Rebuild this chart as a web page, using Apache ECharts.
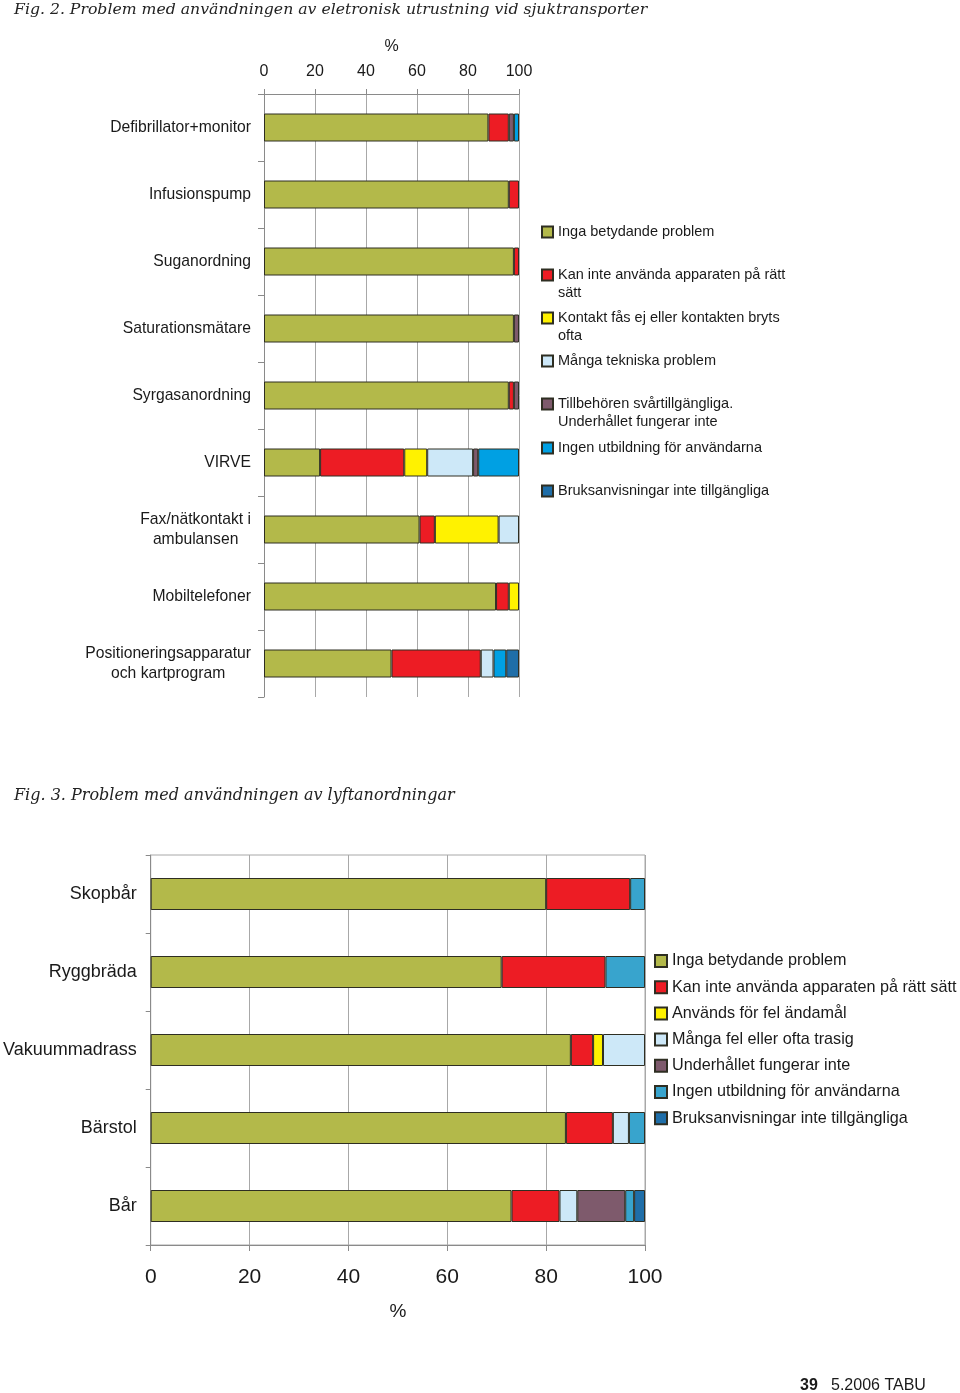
<!DOCTYPE html>
<html>
<head>
<meta charset="utf-8">
<script src="https://cdn.jsdelivr.net/npm/echarts@6/dist/echarts.min.js"></script>
<style>
html,body{margin:0;padding:0;background:#fff;}
#c1{position:absolute;left:0;top:0;width:960px;height:780px;}
#c2{position:absolute;left:0;top:780px;width:960px;height:613px;}
</style>
</head>
<body>
<div id="c1"></div>
<div id="c2"></div>
<script>
// ---------- Fig. 2 data ----------
const cats1 = ['Defibrillator+monitor','Infusionspump','Suganordning','Saturationsmätare','Syrgasanordning','VIRVE','Fax/nätkontakt i\nambulansen','Mobiltelefoner','Positioneringsapparatur\noch kartprogram'];
const names1 = ['Inga betydande problem','Kan inte använda apparaten på rätt sätt','Kontakt fås ej eller kontakten bryts ofta','Många tekniska problem','Tillbehören svårtillgängliga. Underhållet fungerar inte','Ingen utbildning för användarna','Bruksanvisningar inte tillgängliga'];
const legendText1 = ['Inga betydande problem','Kan inte använda apparaten på rätt\nsätt','Kontakt fås ej eller kontakten bryts\nofta','Många tekniska problem','Tillbehören svårtillgängliga.\nUnderhållet fungerar inte','Ingen utbildning för användarna','Bruksanvisningar inte tillgängliga'];
const inga1    = [88, 96, 98, 98, 96, 22, 61, 91, 50];
const kan1     = [ 8,  4,  2,  0,  2, 33,  6,  5, 35];
const kontakt1 = [ 0,  0,  0,  0,  0,  9, 25,  4,  0];
const tekn1    = [ 0,  0,  0,  0,  0, 18,  8,  0,  5];
const till1    = [ 2,  0,  0,  2,  2,  2,  0,  0,  0];
const utb1     = [ 2,  0,  0,  0,  0, 16,  0,  0,  5];
const bruk1    = [ 0,  0,  0,  0,  0,  0,  0,  0,  5];
const ticks1 = [0, 20, 40, 60, 80, 100];

// ---------- Fig. 3 data ----------
const cats2 = ['Skopbår','Ryggbräda','Vakuummadrass','Bärstol','Bår'];
const names2 = ['Inga betydande problem','Kan inte använda apparaten på rätt sätt','Används för fel ändamål','Många fel eller ofta trasig','Underhållet fungerar inte','Ingen utbildning för användarna','Bruksanvisningar inte tillgängliga'];
const inga2 = [80, 71, 85,   84,   73];
const kan2  = [17, 21, 4.5,  9.5,  9.7];
const anv2  = [ 0,  0, 2,    0,    0];
const fel2  = [ 0,  0, 8.5,  3.25, 3.6];
const und2  = [ 0,  0, 0,    0,    9.7];
const utb2  = [ 3,  8, 0,    3.25, 1.8];
const bruk2 = [ 0,  0, 0,    0,    2.2];

const colors1 = ['#b3b94a','#ed1c24','#fff200','#cde8f8','#7e5a6c','#00a0e3','#1f6ea8'];
const colors2 = ['#b3b94a','#ed1c24','#fff200','#cde8f8','#7e5a6c','#38a4cd','#1f6ea8'];

const FONT = '"Liberation Sans", Arial, sans-serif';
const SERIF = '"DejaVu Serif", serif';
const TXT = '#1a1a1a';
const GRIDC = '#a8a8a8';
const AXC = '#8a8a8a';

function nz(arr){ return arr.map(v => v === 0 ? '-' : v); }

function makeSeries(names, dataList, colors, barWidth){
  return names.map((n, i) => ({
    name: n, type: 'bar', stack: 'all', barWidth: barWidth,
    data: nz(dataList[i]),
    itemStyle: { color: colors[i], borderColor: '#2e2e22', borderWidth: 1 },
    emphasis: { disabled: true },
    animation: false
  }));
}

// rich styles for centered multi-line category labels
const rich1 = {};
cats1.forEach((c, i) => {
  if (c.indexOf('\n') >= 0) rich1['c' + i] = { align: 'center', fontSize: 15.7, lineHeight: 20, fontFamily: FONT, color: TXT };
});

// ---------- Chart 1 ----------
const ch1 = echarts.init(document.getElementById('c1'));
const legendCenters1 = [232, 275, 318, 361, 404, 448, 491];
const legends1 = names1.map((n, i) => {
  const two = legendText1[i].indexOf('\n') >= 0;
  return {
    data: [n], left: 541, top: two ? legendCenters1[i] - 27 : legendCenters1[i] - 9,
    padding: 0, itemWidth: 11, itemHeight: 11, icon: 'rect',
    selectedMode: false,
    formatter: () => (two ? '\n' : '') + legendText1[i],
    textStyle: { fontFamily: FONT, fontSize: 14.5, color: TXT, lineHeight: 18 }
  };
});
ch1.setOption({
  animation: false,
  title: {
    text: 'Fig. 2. Problem med användningen av eletronisk utrustning vid sjuktransporter',
    left: 14, top: 2, padding: 0,
    textStyle: { fontFamily: SERIF, fontStyle: 'italic', fontWeight: 'normal', fontSize: 15.7, color: '#222' }
  },
  legend: legends1,
  grid: { left: 264, top: 94, width: 255, height: 603, containLabel: false },
  xAxis: {
    type: 'value', position: 'top', min: ticks1[0], max: ticks1[ticks1.length - 1], interval: 20,
    name: '%', nameLocation: 'middle', nameGap: 39,
    nameTextStyle: { fontFamily: FONT, fontSize: 16, color: TXT },
    axisLine: { show: true, lineStyle: { color: AXC } },
    axisTick: { show: true, length: 5, lineStyle: { color: AXC } },
    axisLabel: { fontFamily: FONT, fontSize: 16, color: TXT, margin: 14 },
    splitLine: { show: true, lineStyle: { color: GRIDC, width: 1 } }
  },
  yAxis: {
    type: 'category', inverse: true, data: cats1,
    axisLine: { show: true, lineStyle: { color: AXC } },
    axisTick: { show: true, length: 6, lineStyle: { color: AXC } },
    axisLabel: {
      fontFamily: FONT, fontSize: 15.7, color: TXT, margin: 13, lineHeight: 20,
      formatter: (v, i) => v.indexOf('\n') >= 0 ? v.split('\n').map(l => '{c' + i + '|' + l + '}').join('\n') : v,
      rich: rich1
    },
    splitLine: { show: false }
  },
  series: makeSeries(names1, [inga1, kan1, kontakt1, tekn1, till1, utb1, bruk1], colors1, 28)
});

// ---------- Chart 2 ----------
const ch2 = echarts.init(document.getElementById('c2'));
ch2.setOption({
  animation: false,
  title: {
    text: 'Fig. 3. Problem med användningen av lyftanordningar',
    left: 14, top: 8, padding: 0,
    textStyle: { fontFamily: SERIF, fontStyle: 'italic', fontWeight: 'normal', fontSize: 16, color: '#222' }
  },
  legend: {
    orient: 'vertical', left: 654, top: 171, padding: 0, itemGap: 6.2,
    itemWidth: 12, itemHeight: 12, icon: 'rect', selectedMode: false,
    data: names2,
    textStyle: { fontFamily: FONT, fontSize: 16.2, color: TXT, lineHeight: 20 }
  },
  grid: { left: 150, top: 75, width: 495, height: 390, show: true, borderColor: GRIDC, borderWidth: 1, containLabel: false },
  xAxis: {
    type: 'value', min: 0, max: 100, interval: 20,
    name: '%', nameLocation: 'middle', nameGap: 57,
    nameTextStyle: { fontFamily: FONT, fontSize: 19, color: TXT },
    axisLine: { show: true, lineStyle: { color: AXC } },
    axisTick: { show: true, length: 6, lineStyle: { color: AXC } },
    axisLabel: { fontFamily: FONT, fontSize: 21, color: TXT, margin: 22 },
    splitLine: { show: true, lineStyle: { color: GRIDC, width: 1 } }
  },
  yAxis: {
    type: 'category', inverse: true, data: cats2,
    axisLine: { show: true, lineStyle: { color: AXC } },
    axisTick: { show: true, length: 5, lineStyle: { color: AXC } },
    axisLabel: { fontFamily: FONT, fontSize: 18, color: TXT, margin: 14 },
    splitLine: { show: false }
  },
  series: makeSeries(names2, [inga2, kan2, anv2, fel2, und2, utb2, bruk2], colors2, 32),
  graphic: [
    { type: 'text', left: 800, top: 598, style: { text: '39', fontFamily: FONT, fontSize: 16, fontWeight: 'bold', fill: TXT } },
    { type: 'text', left: 831, top: 598, style: { text: '5.2006 TABU', fontFamily: FONT, fontSize: 16, fill: TXT } }
  ]
});
</script>
</body>
</html>
